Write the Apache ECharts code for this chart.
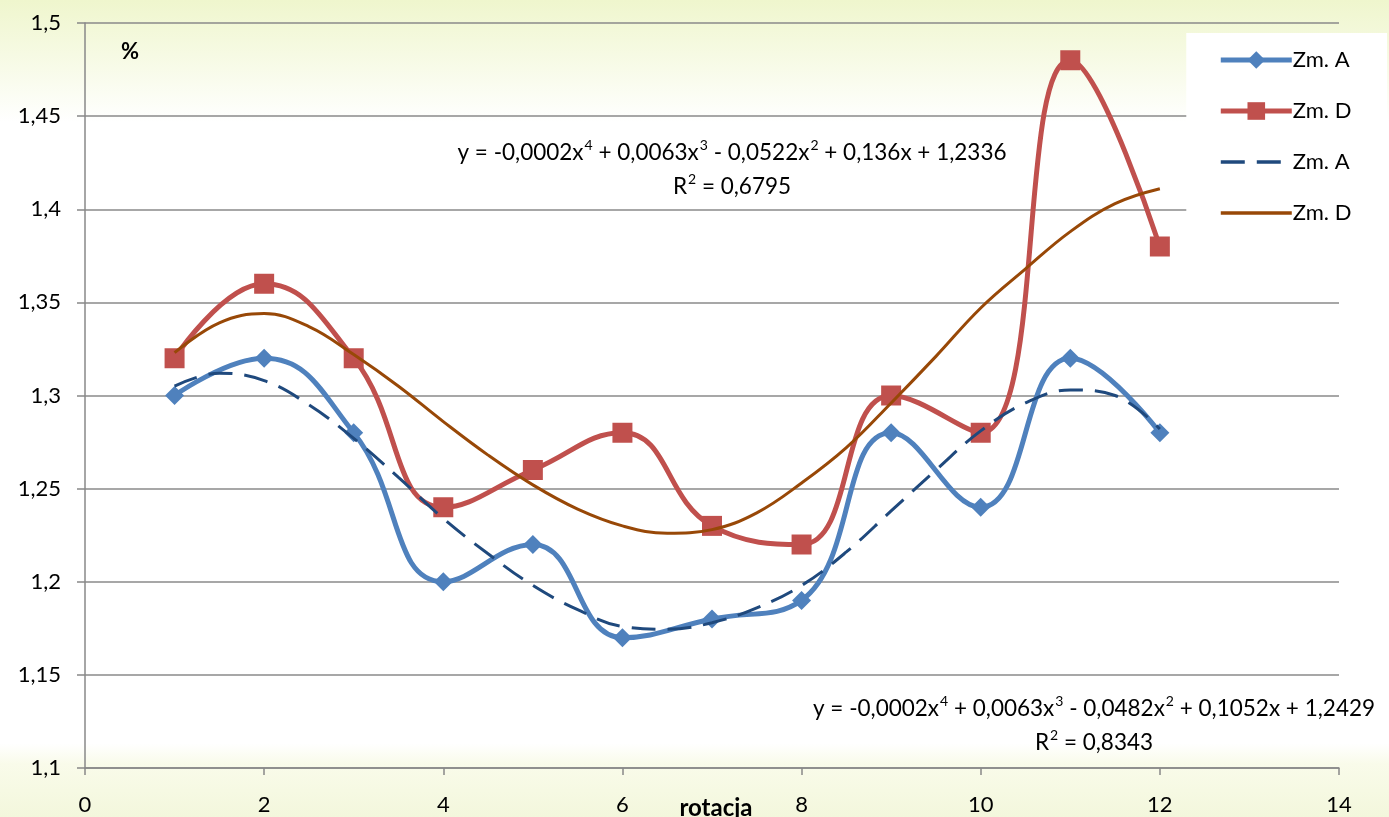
<!DOCTYPE html>
<html>
<head>
<meta charset="utf-8">
<script src="https://cdn.jsdelivr.net/npm/echarts@6/dist/echarts.min.js"></script>
<style>
html,body{margin:0;padding:0;width:1389px;height:817px;overflow:hidden;}
#c{width:1389px;height:817px;}
</style>
</head>
<body>
<div id="c"></div>
<script>
// ---- data ----
const xValues = [1, 2, 3, 4, 5, 6, 7, 8, 9, 10, 11, 12];
const zmA = [1.30, 1.32, 1.28, 1.20, 1.22, 1.17, 1.18, 1.19, 1.28, 1.24, 1.32, 1.28];
const zmD = [1.32, 1.36, 1.32, 1.24, 1.26, 1.28, 1.23, 1.22, 1.30, 1.28, 1.48, 1.38];
// trend lines, every half unit
const trendX = [1, 1.5, 2, 2.5, 3, 3.5, 4, 4.5, 5, 5.5, 6, 6.5, 7, 7.5, 8, 8.5, 9, 9.5, 10, 10.5, 11, 11.5, 12];
const trendA = [1.305, 1.312, 1.308, 1.295, 1.277, 1.256, 1.234, 1.215, 1.198, 1.185, 1.176, 1.1745, 1.178, 1.186, 1.198, 1.216, 1.238, 1.260, 1.281, 1.296, 1.303, 1.300, 1.282];
const trendD = [1.323, 1.339, 1.344, 1.337, 1.322, 1.305, 1.286, 1.268, 1.252, 1.239, 1.230, 1.226, 1.228, 1.237, 1.253, 1.272, 1.296, 1.321, 1.347, 1.368, 1.388, 1.403, 1.411];
const seriesNames = ['Zm. A', 'Zm. D', 'Zm. A ', 'Zm. D '];
const eqD = ['y = -0,0002x', '4', ' + 0,0063x', '3', ' - 0,0522x', '2', ' + 0,136x + 1,2336'];
const r2D = '0,6795';
const eqA = ['y = -0,0002x', '4', ' + 0,0063x', '3', ' - 0,0482x', '2', ' + 0,1052x + 1,2429'];
const r2A = '0,8343';
const xTitle = 'rotacja';
const yTitle = '%';

const pairs = (xs, ys) => xs.map((x, i) => [x, ys[i]]);
const eqRich = (parts) => parts.map((p, i) => i % 2 ? '{s|' + p + '}' : '{n|' + p + '}').join('');
const FONT = 'Lato, "Liberation Sans", sans-serif';
const richStyle = {
  n: {fontSize: 22.5, fontFamily: FONT, color: '#000', lineHeight: 34, verticalAlign: 'bottom'},
  s: {fontSize: 14, fontFamily: FONT, color: '#000', lineHeight: 34, verticalAlign: 'top', padding: [8, 0, 0, 1]}
};
const COLORS = {a: '#4F81BD', d: '#C0504D', ta: '#1F497D', td: '#984807'};

const chart = echarts.init(document.getElementById('c'), null, {renderer: 'canvas'});
chart.setOption({
  backgroundColor: new echarts.graphic.LinearGradient(0, 0, 0, 1, [
    {offset: 0, color: '#EFF6CD'},
    {offset: 0.15, color: '#FFFFFF'},
    {offset: 0.91, color: '#FFFFFF'},
    {offset: 0.935, color: '#F9FBEA'},
    {offset: 1, color: '#F3F7DC'}
  ]),
  animation: false,
  grid: {left: 85, right: 50, top: 23, bottom: 49, containLabel: false, outerBoundsMode: 'none'},
  xAxis: {
    type: 'value', min: 0, max: 14, interval: 2,
    axisLine: {show: true, onZero: false, lineStyle: {color: '#888', width: 1.5}},
    axisTick: {show: true, length: 7, lineStyle: {color: '#888', width: 1.5}},
    axisLabel: {fontSize: 22, fontFamily: FONT, color: '#000', margin: 26},
    splitLine: {show: false}
  },
  yAxis: {
    type: 'value', min: 1.1, max: 1.5, interval: 0.05,
    axisLine: {show: true, lineStyle: {color: '#888', width: 1.5}},
    axisTick: {show: true, length: 8, lineStyle: {color: '#888', width: 1.5}},
    axisLabel: {fontSize: 22, fontFamily: FONT, color: '#000', margin: 24,
      formatter: v => String(Math.round(v * 100) / 100).replace('.', ',')},
    splitLine: {show: true, lineStyle: {color: '#8a8a8a', width: 1.6}}
  },
  legend: {
    right: 2, top: 33, orient: 'vertical',
    backgroundColor: '#FFFFFF',
    padding: [16, 30, 24, 32],
    itemWidth: 71, itemHeight: 22, itemGap: 29,
    textStyle: {fontSize: 22, fontFamily: FONT, color: '#000', padding: [0, 0, 0, -4]},
    data: [
      {name: seriesNames[0], lineStyle: {width: 5}},
      {name: seriesNames[1], lineStyle: {width: 5}},
      {name: seriesNames[2], itemStyle: {opacity: 0}, lineStyle: {width: 3.5}},
      {name: seriesNames[3], itemStyle: {opacity: 0}, lineStyle: {width: 3.5}}
    ]
  },
  series: [
    {
      name: seriesNames[0], type: 'line', data: pairs(xValues, zmA), smooth: 0.45,
      symbol: 'diamond', symbolSize: 19, showSymbol: true,
      lineStyle: {color: COLORS.a, width: 5}, itemStyle: {color: COLORS.a}, z: 2
    },
    {
      name: seriesNames[1], type: 'line', data: pairs(xValues, zmD), smooth: 0.45,
      symbol: 'rect', symbolSize: 20, showSymbol: true,
      lineStyle: {color: COLORS.d, width: 5}, itemStyle: {color: COLORS.d}, z: 2
    },
    {
      name: seriesNames[2], type: 'line', data: pairs(trendX, trendA), smooth: 0.4,
      symbol: 'circle', showSymbol: false,
      lineStyle: {color: COLORS.ta, width: 3, type: [24, 12]}, itemStyle: {color: COLORS.ta}, z: 3
    },
    {
      name: seriesNames[3], type: 'line', data: pairs(trendX, trendD), smooth: 0.4,
      symbol: 'circle', showSymbol: false,
      lineStyle: {color: COLORS.td, width: 3}, itemStyle: {color: COLORS.td}, z: 3
    }
  ],
  graphic: [
    {type: 'text', left: 121, top: 41, style: {text: yTitle, fontSize: 22, fontWeight: 'bold', fontFamily: FONT, fill: '#000'}},
    {type: 'text', x: 716, y: 808, style: {text: xTitle, fontSize: 24, fontWeight: 'bold', fontFamily: FONT, fill: '#000', align: 'center', verticalAlign: 'middle'}},
    {type: 'text', x: 732, y: 147, style: {text: eqRich(eqD), rich: richStyle, align: 'center', verticalAlign: 'middle'}},
    {type: 'text', x: 732, y: 181, style: {text: '{n|R}{s|2}{n| = ' + r2D + '}', rich: richStyle, align: 'center', verticalAlign: 'middle'}},
    {type: 'text', x: 1094, y: 703, style: {text: eqRich(eqA), rich: richStyle, align: 'center', verticalAlign: 'middle'}},
    {type: 'text', x: 1094, y: 737, style: {text: '{n|R}{s|2}{n| = ' + r2A + '}', rich: richStyle, align: 'center', verticalAlign: 'middle'}}
  ]
});
</script>
</body>
</html>
